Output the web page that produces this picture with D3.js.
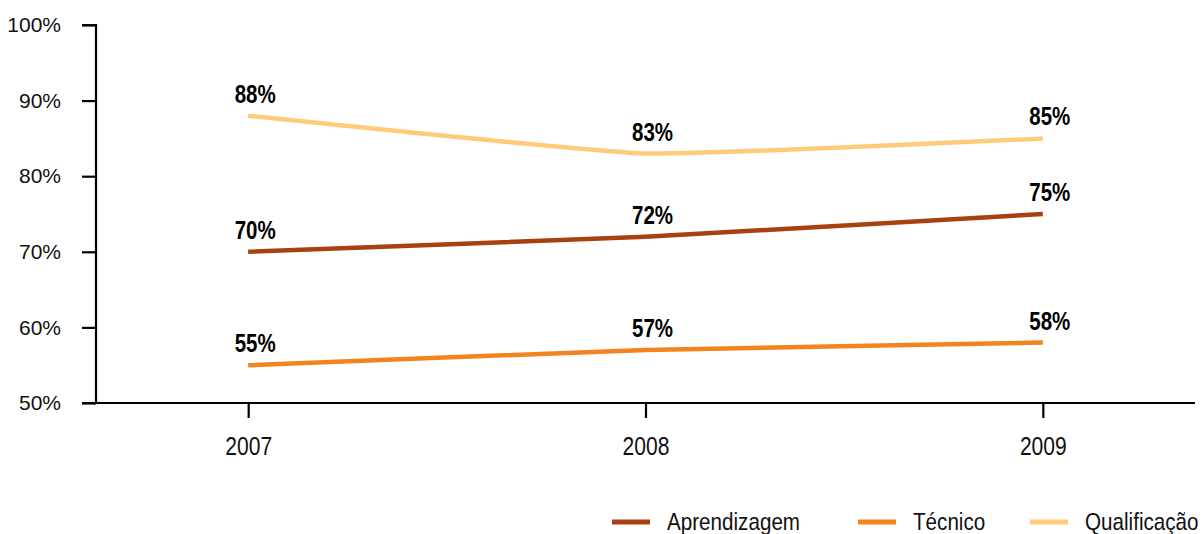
<!DOCTYPE html>
<html>
<head>
<meta charset="utf-8">
<script src="https://cdn.jsdelivr.net/npm/d3@7"></script>
<style>
  body { margin: 0; background: #fff; }
  svg { display: block; }
  text { font-family: "Liberation Sans", Arial, sans-serif; }
</style>
</head>
<body>
<div id="chart"></div>
<script>
// data
const years = ["2007", "2008", "2009"]
const aprendizagem = [70, 72, 75]
const tecnico = [55, 57, 58]
const qualificacao = [88, 83, 85]
const seriesNames = ["Aprendizagem", "Técnico", "Qualificação"]
const seriesColors = ["#A8400F", "#F4831F", "#FFCB78"]
const yTicks = [50, 60, 70, 80, 90, 100]

const width = 1202, height = 534
const svg = d3.select("#chart").append("svg")
    .attr("width", width)
    .attr("height", height)

const x = d3.scalePoint().domain(years).range([96, 1195]).padding(0.383)
const y = d3.scaleLinear().domain([50, 100]).range([403, 25])

const series = [aprendizagem, tecnico, qualificacao].map((vals, i) => ({
    name: seriesNames[i],
    color: seriesColors[i],
    values: vals.map((v, j) => ({year: years[j], value: v}))
}))

// y axis
const yAxis = svg.append("g")
    .attr("transform", "translate(96,0)")
    .call(d3.axisLeft(y).tickValues(yTicks).tickSize(14).tickPadding(21).tickFormat(d => d + "%"))
yAxis.select(".domain").attr("stroke", "#000").attr("stroke-width", 2.2).attr("d", "M0,403V25H-14")
yAxis.selectAll(".tick line").attr("stroke", "#000").attr("stroke-width", 2.2)
yAxis.selectAll(".tick text")
    .attr("font-family", "'Liberation Sans', Arial, sans-serif")
    .attr("font-size", 21)
    .attr("fill", "#111")

// x axis (condensed look via horizontal scale)
const xAxis = svg.append("g")
    .attr("transform", "translate(0,403)")
    .call(d3.axisBottom(x).tickSize(15).tickFormat(""))
xAxis.select(".domain").attr("stroke", "#000").attr("stroke-width", 2.2).attr("d", "M82,0H1195")
xAxis.selectAll(".tick line").attr("stroke", "#000").attr("stroke-width", 2.2)
xAxis.selectAll(".tick").append("text")
    .attr("transform", "translate(0,52) scale(0.81,1)")
    .attr("text-anchor", "middle")
    .attr("font-size", 26)
    .attr("fill", "#111")
    .text(d => d)

// lines
const line = d3.line()
    .x(d => x(d.year))
    .y(d => y(d.value))
    .curve(d3.curveCardinal.tension(0.6))

svg.append("g").selectAll("path")
    .data(series)
    .join("path")
    .attr("fill", "none")
    .attr("stroke", d => d.color)
    .attr("stroke-width", 4.5)
    .attr("d", d => line(d.values))

// value labels
svg.append("g").selectAll("g")
    .data(series)
    .join("g")
    .selectAll("text")
    .data(d => d.values)
    .join("text")
    .attr("transform", d => `translate(${x(d.year) + 7},${y(d.value) - 13}) scale(0.82,1)`)
    .attr("text-anchor", "middle")
    .attr("font-size", 25)
    .attr("font-weight", "bold")
    .attr("fill", "#000")
    .text(d => d.value + "%")

// legend
const legendX = [612, 858, 1030]
const legend = svg.append("g").selectAll("g")
    .data(series)
    .join("g")
    .attr("transform", (d, i) => `translate(${legendX[i]},522)`)
legend.append("line")
    .attr("x1", 0).attr("x2", 38)
    .attr("stroke", d => d.color)
    .attr("stroke-width", 5)
legend.append("text")
    .attr("transform", "translate(55,8) scale(0.86,1)")
    .attr("font-size", 24)
    .attr("fill", "#111")
    .text(d => d.name)
</script>
</body>
</html>
